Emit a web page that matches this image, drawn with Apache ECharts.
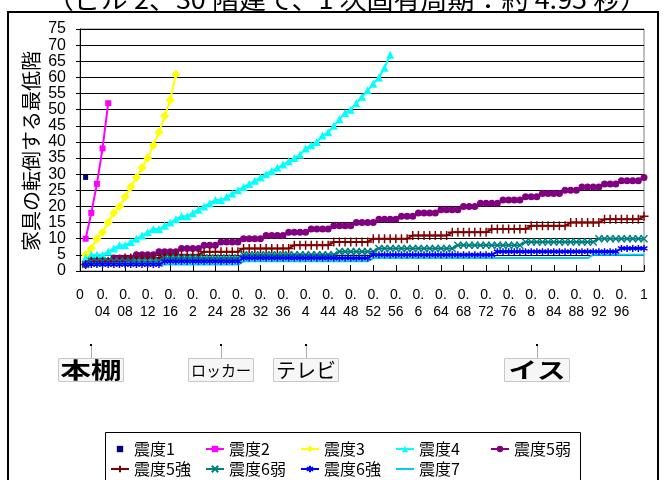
<!DOCTYPE html>
<html>
<head>
<meta charset="utf-8">
<script src="https://cdn.jsdelivr.net/npm/echarts@6/dist/echarts.min.js"></script>
<style>
html, body { margin: 0; padding: 0; background: #fff; }
#container { width: 664px; height: 480px; }
</style>
</head>
<body>
<div id="container"></div>
<script>
// x categories (ratio 0 .. 1, step 0.01)
var categories = ('0 0.01 0.02 0.03 0.04 0.05 0.06 0.07 0.08 0.09 0.1 0.11 0.12 0.13 0.14 0.15 0.16 0.17 0.18 0.19 ' +
    '0.2 0.21 0.22 0.23 0.24 0.25 0.26 0.27 0.28 0.29 0.3 0.31 0.32 0.33 0.34 0.35 0.36 0.37 0.38 0.39 ' +
    '0.4 0.41 0.42 0.43 0.44 0.45 0.46 0.47 0.48 0.49 0.5 0.51 0.52 0.53 0.54 0.55 0.56 0.57 0.58 0.59 ' +
    '0.6 0.61 0.62 0.63 0.64 0.65 0.66 0.67 0.68 0.69 0.7 0.71 0.72 0.73 0.74 0.75 0.76 0.77 0.78 0.79 ' +
    '0.8 0.81 0.82 0.83 0.84 0.85 0.86 0.87 0.88 0.89 0.9 0.91 0.92 0.93 0.94 0.95 0.96 0.97 0.98 0.99 1').split(' ');

var seriesNames = ['震度1', '震度2', '震度3', '震度4', '震度5弱', '震度5強', '震度6弱', '震度6強', '震度7'];

var shindo1 = [null, 29];
var shindo2 = [null, 10, 18, 27, 38, 52];
var shindo3 = [null, 5, 7, 10, 12, 15, 18, 20, 23, 26, 29, 32, 35, 39, 43, 48, 53, 61];
var shindo4 = [null,
    4, 5, 5, 5, 6, 7, 8, 8, 9, 10,
    11, 12, 13, 13, 14, 15, 16, 17, 17, 18,
    19, 20, 21, 22, 22, 23, 24, 25, 26, 27,
    28, 29, 30, 31, 32, 33, 34, 35, 36, 38,
    39, 40, 42, 43, 45, 47, 49, 50, 52, 54,
    56, 58, 60, 63, 67];
var shindo5w = [null, 2,
    3, 3, 3, 3, 4, 4, 4, 4, 5, 5, 5, 5, 6, 6, 6, 6, 7, 7, 7, 7,
    8, 8, 8, 9, 9, 9, 9, 10, 10, 10, 10, 11, 11, 11, 11, 12, 12, 12, 12,
    13, 13, 13, 13, 14, 14, 14, 14, 15, 15, 15, 15, 16, 16, 16, 16,
    17, 17, 17, 18, 18, 18, 18, 19, 19, 19, 19, 20, 20, 20,
    21, 21, 21, 21, 22, 22, 22, 22, 23, 23, 23, 24, 24, 24, 24,
    25, 25, 25, 26, 26, 26, 26, 27, 27, 27, 28, 28, 28, 28, 29];
var shindo5s = [null, 2,
    3, 3, 3, 3, 3, 3,
    4, 4, 4, 4, 4, 4, 4,
    5, 5, 5, 5, 5, 5, 5,
    6, 6, 6, 6, 6, 6, 6,
    7, 7, 7, 7, 7, 7, 7, 7, 7,
    8, 8, 8, 8, 8, 8, 8,
    9, 9, 9, 9, 9, 9, 9,
    10, 10, 10, 10, 10, 10, 10,
    11, 11, 11, 11, 11, 11, 11,
    12, 12, 12, 12, 12, 12, 12,
    13, 13, 13, 13, 13, 13, 13,
    14, 14, 14, 14, 14, 14, 14,
    15, 15, 15, 15, 15, 15,
    16, 16, 16, 16, 16, 16, 16,
    17];
var shindo6w = [null, 2,
    3, 3, 3, 3, 3, 3, 3, 3, 3, 3, 3, 3, 3,
    4, 4, 4, 4, 4, 4, 4, 4, 4, 4, 4, 4, 4, 4,
    5, 5, 5, 5, 5, 5, 5, 5, 5, 5, 5, 5, 5, 5, 5, 5, 5,
    6, 6, 6, 6, 6, 6, 6,
    7, 7, 7, 7, 7, 7, 7, 7, 7, 7, 7, 7, 7, 7,
    8, 8, 8, 8, 8, 8, 8, 8, 8, 8, 8, 8,
    9, 9, 9, 9, 9, 9, 9, 9, 9, 9, 9, 9, 9,
    10, 10, 10, 10, 10, 10, 10, 10, 10];
var shindo6s = [null,
    2, 2, 2, 2, 2, 2, 2, 2, 2, 2, 2, 2, 2, 2,
    3, 3, 3, 3, 3, 3, 3, 3, 3, 3, 3, 3, 3, 3,
    4, 4, 4, 4, 4, 4, 4, 4, 4, 4, 4, 4, 4, 4, 4, 4, 4, 4, 4, 4, 4, 4, 4,
    5, 5, 5, 5, 5, 5, 5, 5, 5, 5, 5, 5, 5, 5, 5, 5, 5, 5, 5, 5, 5, 5,
    6, 6, 6, 6, 6, 6, 6, 6, 6, 6, 6, 6, 6, 6, 6, 6, 6, 6, 6, 6, 6, 6,
    7, 7, 7, 7, 7];
var shindo7 = [null,
    2, 2, 2, 2, 2, 2, 2, 2, 2, 2, 2, 2, 2, 2, 2, 2, 2, 2, 2, 2, 2, 2, 2, 2, 2, 2, 2, 2,
    3, 3, 3, 3, 3, 3, 3, 3, 3, 3, 3, 3, 3, 3, 3, 3, 3, 3, 3, 3, 3, 3, 3,
    4, 4, 4, 4, 4, 4, 4, 4, 4, 4, 4, 4, 4, 4, 4, 4, 4, 4, 4, 4,
    4, 4, 4, 4, 4, 4, 4, 4, 4, 4, 4, 4, 4, 4, 4, 4, 4, 4, 4,
    5, 5, 5, 5, 5, 5, 5, 5, 5, 5];

// furniture labels under the axis
var annoLabels = ['本棚', 'ロッカー', 'テレビ', 'イス'];
var annoAt = ['0.02', '0.25', '0.4', '0.81'];

var CJK = "'Noto Sans CJK JP', sans-serif";
var NUM = "'Liberation Sans', Arial, sans-serif";

var colors = ['#000080', '#FF00FF', '#FFFF00', '#00FFFF', '#800080', '#800000', '#008080', '#0000FF', '#00CCFF'];
var symbols = ['rect', 'rect', 'diamond', 'triangle', 'circle',
    'path://M5,0L5,10M0,5L10,5',
    'path://M0,0L10,10M10,0L0,10',
    'path://M5,0L5,10M0,2.5L10,7.5M10,2.5L0,7.5',
    'none'];
var symbolSizes = [5, 6, 9, 8, 7, 9, 7, 7, 0];
var allData = [shindo1, shindo2, shindo3, shindo4, shindo5w, shindo5s, shindo6w, shindo6s, shindo7];

var series = seriesNames.map(function (name, i) {
    var isPath = symbols[i].indexOf('path://') === 0;
    return {
        name: name,
        type: 'line',
        data: allData[i],
        symbol: symbols[i],
        symbolSize: symbolSizes[i],
        showAllSymbol: true,
        lineStyle: { color: colors[i], width: i === 0 ? 0 : 2 },
        itemStyle: isPath ? { color: colors[i], borderColor: colors[i], borderWidth: 1.5 } : { color: colors[i], borderWidth: 0 },
        emphasis: { disabled: true }
    };
});

var legendData = seriesNames.map(function (name, i) {
    return symbols[i] === 'none' ? { name: name, itemStyle: { opacity: 0 } } : name;
});

var dom = document.getElementById('container');
var myChart = echarts.init(dom);

myChart.setOption({
    animation: false,
    grid: { left: 80, right: 20, top: 29, bottom: 209, show: true, borderColor: '#808080', borderWidth: 1 },
    legend: {
        data: legendData,
        left: 110,
        top: 441,
        width: 540,
        padding: 0,
        itemWidth: 18,
        itemHeight: 8,
        itemGap: 4,
        textStyle: { fontFamily: CJK, fontSize: 16, color: '#000', width: 67, overflow: 'truncate', lineHeight: 16 }
    },
    xAxis: {
        type: 'category',
        data: categories,
        boundaryGap: false,
        axisLine: { lineStyle: { color: '#000', width: 1 } },
        axisTick: { inside: true, length: 6, interval: 3, lineStyle: { color: '#000' } },
        axisLabel: {
            interval: 3,
            margin: 16,
            fontFamily: NUM,
            fontSize: 14,
            lineHeight: 17,
            color: '#000',
            formatter: function (v) {
                var p = v.indexOf('.');
                return p < 0 ? v : v.slice(0, p + 1) + '\n' + v.slice(p + 1);
            }
        },
        splitLine: { show: false }
    },
    yAxis: {
        type: 'value',
        min: 0,
        max: 75,
        interval: 5,
        axisLine: { show: true, lineStyle: { color: '#000', width: 1 } },
        axisTick: { show: true, length: 4, lineStyle: { color: '#000' } },
        axisLabel: { fontFamily: NUM, fontSize: 16, color: '#000', margin: 14 },
        splitLine: { lineStyle: { color: '#000', width: 1 } }
    },
    series: series
});

// title, axis name, frames and furniture labels
var graphics = [
    { type: 'rect', silent: true, shape: { x: 8, y: 12, width: 650, height: 500 },
      style: { fill: null, stroke: '#000', lineWidth: 2 }, z: -1 },
    { type: 'rect', silent: true, shape: { x: 105.5, y: 432.5, width: 475, height: 70 },
      style: { fill: null, stroke: '#000', lineWidth: 1 } },
    { type: 'text', silent: true, x: 347, y: -1, scaleX: 1.08,
      style: { text: '（ビル 2、30 階建て、1 次固有周期：約 4.95 秒）', font: '25px ' + CJK, fill: '#000',
               textAlign: 'center', textVerticalAlign: 'middle' } },
    { type: 'text', silent: true, x: 31, y: 151, rotation: Math.PI / 2,
      style: { text: '家具の転倒する最低階', font: '20px ' + CJK, fill: '#000',
               textAlign: 'center', textVerticalAlign: 'middle' } }
];

var annoFont = [22, 15, 20, 22];
var annoScale = [1.4, 1, 1, 1.3];
var annoWeight = ['bold', 'normal', 'normal', 'bold'];
annoLabels.forEach(function (lab, i) {
    var x = Math.round(myChart.convertToPixel({ xAxisIndex: 0 }, annoAt[i]));
    graphics.push(
        { type: 'rect', silent: true, shape: { x: x - 1, y: 344, width: 2, height: 2 }, style: { fill: '#000' } },
        { type: 'line', silent: true, shape: { x1: x + 0.5, y1: 346, x2: x + 0.5, y2: 358 }, style: { stroke: '#aaa', lineWidth: 1 } },
        { type: 'rect', silent: true, shape: { x: x - 32.5, y: 358.5, width: 65, height: 23 },
          style: { fill: '#f6f6f6', stroke: '#c8c8c8', lineWidth: 1 } },
        { type: 'text', silent: true, x: x, y: 370, scaleX: annoScale[i],
          style: { text: lab, font: annoWeight[i] + ' ' + annoFont[i] + 'px ' + CJK, fill: '#000',
                   textAlign: 'center', textVerticalAlign: 'middle' } }
    );
});

myChart.setOption({ graphic: graphics });
</script>
</body>
</html>
